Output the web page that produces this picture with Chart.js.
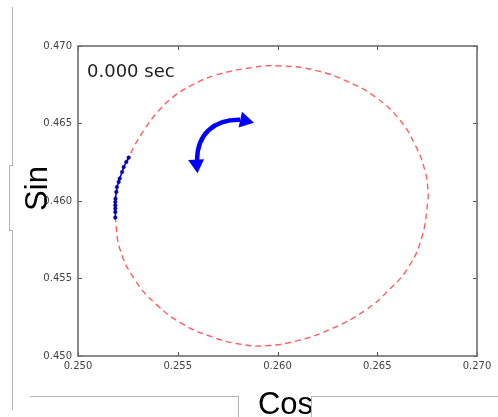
<!DOCTYPE html>
<html>
<head>
<meta charset="utf-8">
<script src="https://cdn.jsdelivr.net/npm/chart.js@4/dist/chart.umd.min.js"></script>
<style>
  html, body { margin: 0; padding: 0; background: #fff; overflow: hidden; }
  #wrap { position: relative; width: 498px; height: 417px; }
  #plot { position: absolute; left: 0; top: 0; }
  .ln { position: absolute; background: #b4b4b4; }
</style>
</head>
<body>
<div id="wrap">
  <canvas id="plot" width="498" height="417"></canvas>
  <!-- slide frame lines around the picture -->
  <div class="ln" style="left:12px;top:7px;width:1px;height:158px"></div>
  <div class="ln" style="left:9px;top:165px;width:4px;height:1px"></div>
  <div class="ln" style="left:9px;top:165px;width:1px;height:65px"></div>
  <div class="ln" style="left:9px;top:230px;width:4px;height:1px"></div>
  <div class="ln" style="left:12px;top:230px;width:1px;height:180px"></div>
  <div class="ln" style="left:30px;top:396px;width:209px;height:1px"></div>
  <div class="ln" style="left:238px;top:396px;width:1px;height:21px"></div>
  <div class="ln" style="left:311px;top:396px;width:187px;height:1px"></div>
  <div class="ln" style="left:311px;top:396px;width:1px;height:21px"></div>
</div>
<script>
// Ellipse traced by the point
const ringX = [0.25184, 0.25187, 0.25195, 0.25221, 0.25254, 0.25279, 0.25334, 0.25396, 0.25471, 0.25563,
               0.25688, 0.25872, 0.26006, 0.26190, 0.26356, 0.26490, 0.26607, 0.26691, 0.26741, 0.26754,
               0.26753, 0.26724, 0.26657, 0.26557, 0.26440, 0.26273, 0.26106, 0.25939, 0.25814, 0.25672,
               0.25521, 0.25388, 0.25287, 0.25212, 0.25187, 0.25184];
const ringY = [0.45940, 0.45994, 0.46090, 0.46187, 0.46274, 0.46348, 0.46463, 0.46570, 0.46665, 0.46742,
               0.46811, 0.46861, 0.46872, 0.46843, 0.46768, 0.46671, 0.46532, 0.46359, 0.46187, 0.46069,
               0.45994, 0.45768, 0.45574, 0.45424, 0.45295, 0.45177, 0.45101, 0.45066, 0.45076, 0.45123,
               0.45209, 0.45338, 0.45488, 0.45682, 0.45887, 0.45940];

// Blue trace (recent positions)
const traceX = [0.25187, 0.25187, 0.25187, 0.25187, 0.25187, 0.25188, 0.25192, 0.25195, 0.25204, 0.25209,
                0.25221, 0.25229, 0.25242, 0.25254];
const traceY = [0.45893, 0.45929, 0.45951, 0.45972, 0.45994, 0.46015, 0.46058, 0.46090, 0.46123, 0.46145,
                0.46187, 0.46219, 0.46252, 0.46280];

// axis ticks
const xTicks = [0.250, 0.255, 0.260, 0.265, 0.270];
const yTicks = [0.450, 0.455, 0.460, 0.465, 0.470];

const timeLabel = "0.000 sec";

// curved arrow annotation, in data units (start, control 1, control 2, end)
const arrowShaft = [[0.25597, 0.46263], [0.25597, 0.46430], [0.25680, 0.46527], [0.25812, 0.46524]];
const arrowHeadA = [[0.25822, 0.46576], [0.25882, 0.46505], [0.25805, 0.46475]];
const arrowHeadB = [[0.25552, 0.46265], [0.25599, 0.46179], [0.25632, 0.46269]];

const ringData = ringX.map((x, i) => ({ x: x, y: ringY[i] }));
const traceData = traceX.map((x, i) => ({ x: x, y: traceY[i] }));

// frame, inward ticks, titles, label, arrow
const decorations = {
    id: "decorations",
    afterDraw(chart) {
        const ctx = chart.ctx;
        const a = chart.chartArea;
        const sx = chart.scales.x, sy = chart.scales.y;

        ctx.save();
        // inward tick marks on all four sides
        ctx.strokeStyle = "#555";
        ctx.lineWidth = 1;
        ctx.beginPath();
        xTicks.forEach(v => {
            const px = Math.round(sx.getPixelForValue(v)) + 0.5;
            ctx.moveTo(px, a.bottom); ctx.lineTo(px, a.bottom - 4);
            ctx.moveTo(px, a.top); ctx.lineTo(px, a.top + 4);
        });
        yTicks.forEach(v => {
            const py = Math.round(sy.getPixelForValue(v)) + 0.5;
            ctx.moveTo(a.left, py); ctx.lineTo(a.left + 4, py);
            ctx.moveTo(a.right, py); ctx.lineTo(a.right - 4, py);
        });
        ctx.stroke();

        // frame
        ctx.strokeStyle = "#6e6e6e";
        ctx.lineWidth = 1.6;
        ctx.strokeRect(a.left, a.top, a.right - a.left, a.bottom - a.top);

        // time label
        ctx.fillStyle = "#222";
        ctx.font = '18px "DejaVu Sans"';
        ctx.textBaseline = "alphabetic";
        ctx.textAlign = "left";
        ctx.fillText(timeLabel, a.left + 9, a.top + 31);

        // arrow
        const P = p => [sx.getPixelForValue(p[0]), sy.getPixelForValue(p[1])];
        const s = arrowShaft.map(P);
        ctx.strokeStyle = "#0000ff";
        ctx.fillStyle = "#0000ff";
        ctx.lineWidth = 4.5;
        ctx.beginPath();
        ctx.moveTo(s[0][0], s[0][1]);
        ctx.bezierCurveTo(s[1][0], s[1][1], s[2][0], s[2][1], s[3][0], s[3][1]);
        ctx.stroke();
        [arrowHeadA, arrowHeadB].forEach(h => {
            ctx.beginPath();
            h.forEach((p, i) => {
                const q = P(p);
                if (i === 0) ctx.moveTo(q[0], q[1]); else ctx.lineTo(q[0], q[1]);
            });
            ctx.closePath();
            ctx.fill();
        });

        // axis titles
        ctx.fillStyle = "#000";
        ctx.font = '31px "Liberation Sans"';
        ctx.textAlign = "center";
        ctx.textBaseline = "alphabetic";
        ctx.fillText("Cos", 285.5, 414);
        ctx.translate(47, 188.5);
        ctx.rotate(-Math.PI / 2);
        ctx.fillText("Sin", 0, 0);
        ctx.restore();
    }
};

document.addEventListener("DOMContentLoaded", function () {
    const ctx = document.getElementById("plot").getContext("2d");

    new Chart(ctx, {
        type: "scatter",
        data: {
            datasets: [{
                label: "trace",
                data: traceData,
                showLine: true,
                borderColor: "#0000ff",
                borderWidth: 1.5,
                pointRadius: 1.8,
                pointBackgroundColor: "#0000cc",
                pointBorderColor: "#000066",
                pointBorderWidth: 0.5,
                order: 0
            }, {
                label: "orbit",
                data: ringData,
                showLine: true,
                borderColor: "rgba(255, 40, 40, 0.75)",
                borderWidth: 1.4,
                borderDash: [6, 4],
                pointRadius: 0,
                tension: 0.45,
                order: 1
            }]
        },
        options: {
            responsive: false,
            animation: false,
            layout: { padding: { top: 46, right: 21, left: 0, bottom: 0 } },
            plugins: {
                legend: { display: false },
                tooltip: { enabled: false }
            },
            scales: {
                x: {
                    type: "linear",
                    min: 0.25,
                    max: 0.27,
                    afterFit: function (scale) { scale.height = 61; },
                    afterBuildTicks: function (scale) { scale.ticks = xTicks.map(v => ({ value: v })); },
                    grid: { display: false, drawTicks: false },
                    border: { display: false },
                    ticks: {
                        padding: 4,
                        color: "#444",
                        font: { family: "DejaVu Sans", size: 10 },
                        maxRotation: 0,
                        callback: v => v.toFixed(3)
                    }
                },
                y: {
                    type: "linear",
                    min: 0.45,
                    max: 0.47,
                    afterFit: function (scale) { scale.width = 78; },
                    afterBuildTicks: function (scale) { scale.ticks = yTicks.map(v => ({ value: v })); },
                    grid: { display: false, drawTicks: false },
                    border: { display: false },
                    ticks: {
                        padding: 6,
                        color: "#444",
                        font: { family: "DejaVu Sans", size: 10 },
                        callback: v => v.toFixed(3)
                    }
                }
            }
        },
        plugins: [decorations]
    });
});
</script>
</body>
</html>
